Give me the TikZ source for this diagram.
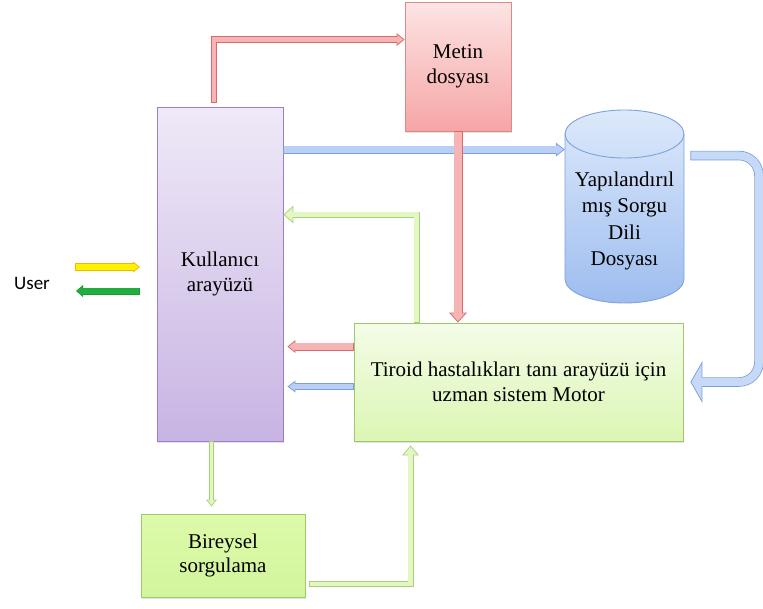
\documentclass[tikz,border=0pt]{standalone}
\usepackage{fontspec}
\setmainfont{Liberation Serif}
\newfontfamily\userfont{Carlito}
\usetikzlibrary{arrows.meta,shadows}

% box colours
\definecolor{metinTop}{HTML}{FDE4E4}
\definecolor{metinBot}{HTML}{F6A5A5}
\definecolor{metinLine}{HTML}{D98A8A}
\definecolor{kulTop}{HTML}{EFE9F7}
\definecolor{kulBot}{HTML}{C8B4E3}
\definecolor{kulLine}{HTML}{9A7FC5}
\definecolor{cylTop}{HTML}{DDE9FB}
\definecolor{cylBot}{HTML}{9DBDEF}
\definecolor{cylLine}{HTML}{7EA2DA}
\definecolor{motorTop}{HTML}{F4FCE8}
\definecolor{motorBot}{HTML}{DCF6B4}
\definecolor{bireyTop}{HTML}{DDFAAA}
\definecolor{bireyBot}{HTML}{D2F59C}
\definecolor{greenLine}{HTML}{9EC86C}
% arrow colours
\definecolor{redFill}{HTML}{F7B4B4}
\definecolor{redLine}{HTML}{D9696A}
\definecolor{blueFill}{HTML}{B9D0F4}
\definecolor{blueLine}{HTML}{7B9FD8}
\definecolor{bigBlueFill}{HTML}{C6D9F6}
\definecolor{gArrowFill}{HTML}{E3F7C2}
\definecolor{gArrowLine}{HTML}{A6D176}
\definecolor{yellowFill}{HTML}{FFF200}
\definecolor{yellowLine}{HTML}{F2B705}
\definecolor{darkGreenFill}{HTML}{22AD40}
\definecolor{darkGreenLine}{HTML}{1C9A36}

% outlined block arrow: outer pass in the border colour, then the tip and
% the shaft refilled in the fill colour
\newcommand\baDraw[3]{\draw[#2,#1] #3;}
\newcommand\blockarrow[7][]{%
  % #2 border, #3 fill, #4 shaft width, #5 head length, #6 head width, #7 path
  \pgfmathsetmacro\baB{0.9}%
  \pgfmathsetmacro\baS{\baB*sqrt((#5)*(#5)+(#6)*(#6)/4)/((#6)/2)}%
  \pgfmathsetmacro\baLi{(#5)-\baB-\baS}%
  \pgfmathsetmacro\baHi{(#6)*\baLi/(#5)}%
  \pgfmathsetmacro\baWi{(#4)-2*\baB}%
  \pgfmathsetmacro\baSh{(#5)-2*\baB}%
  \edef\baOuter{line width=#4pt,-{Triangle[length=#5pt,width=#6pt,line width=0pt]}}%
  \edef\baTip{line width=\baWi pt,shorten >=\baS pt,shorten <=\baB pt,-{Triangle[length=\baLi pt,width=\baHi pt,line width=0pt]}}%
  \edef\baShaft{line width=\baWi pt,shorten >=\baSh pt,shorten <=\baB pt}%
  \expandafter\baDraw\expandafter{\baOuter}{#1,draw=#2}{#7}%
  \expandafter\baDraw\expandafter{\baTip}{#1,draw=#3}{#7}%
  \expandafter\baDraw\expandafter{\baShaft}{#1,draw=#3}{#7}%
}

\begin{document}
\begin{tikzpicture}[x=1pt,y=-1pt,
  boxtext/.style={font=\fontsize{21}{24.5}\selectfont, align=center},
  box/.style={boxtext, draw, line width=0.9pt, inner sep=2pt,
    drop shadow={shadow xshift=1.2pt, shadow yshift=-1.8pt, opacity=0.22}},
  cyl/.style={draw=cylLine, line width=0.9pt},
]
\useasboundingbox (0,0) rectangle (763,608);

% boxes
\node[box, draw=metinLine, top color=metinTop, bottom color=metinBot,
  minimum width=106pt, minimum height=129pt] (metin) at (458,66.5) {Metin\\dosyası};
\node[box, draw=kulLine, top color=kulTop, bottom color=kulBot,
  minimum width=126pt, minimum height=334pt] (kul) at (220,274) {Kullanıcı\\arayüzü};
\node[box, draw=greenLine, top color=motorTop, bottom color=motorBot,
  minimum width=329pt, minimum height=118pt] (motor) at (518.5,382)
  {Tiroid hastalıkları tanı arayüzü için\\uzman sistem Motor};
\node[box, draw=greenLine, top color=bireyTop, bottom color=bireyBot,
  minimum width=164pt, minimum height=83pt] (birey) at (223,555.5) {Bireysel\\sorgulama};

% database cylinder: body, then the front rim of the top end
\shade[cyl, top color=cylTop, bottom color=cylBot]
  (565,134) -- (565,279) arc[start angle=180, end angle=0, x radius=59.5, y radius=24]
  -- (684,134) arc[start angle=0, end angle=-180, x radius=59.5, y radius=24] -- cycle;
\draw[cyl] (565,134) arc[start angle=180, end angle=0, x radius=59.5, y radius=24];
\node[boxtext, font=\fontsize{21}{26.5}\selectfont, minimum width=119pt, inner sep=0pt]
  (sql) at (624.5,221) {Yapılandırıl\\mış Sorgu\\Dili\\Dosyası};

% user side
\node[font=\userfont\fontsize{19}{22}\selectfont] (user) at (32,283) {User};
\coordinate (uinS) at (75,267);
\coordinate (uinE) at (140,267);
\coordinate (uoutS) at (140,291);
\coordinate (uoutE) at (76,291);
\blockarrow{yellowLine}{yellowFill}{8}{7}{11}{(uinS) -- (uinE)}
\blockarrow{darkGreenLine}{darkGreenFill}{7}{7}{12}{(uoutS) -- (uoutE)}

% connector end points
\path ([xshift=-6pt]kul.north) ++(0,-4) coordinate (r1s);
\path (metin.north west) ++(0,38) coordinate (r1e);
\path (kul.north east) ++(0,43) coordinate (b3s);
\path ([xshift=63pt]motor.north west) coordinate (g4s);
\path (kul.north east) ++(0,108) coordinate (g4e);
\path (motor.north west) ++(0,24) coordinate (r5s);
\path (r5s -| kul.east) ++(4,0) coordinate (r5e);
\path (motor.north west) ++(0,64) coordinate (b6s);
\path (b6s -| kul.east) ++(4,0) coordinate (b6e);
\path ([xshift=-8.5pt]kul.south) coordinate (g7s);
\path (g7s |- birey.north) ++(0,-7) coordinate (g7e);
\path (birey.east) ++(4,28.5) coordinate (g8s);
\path (motor.south west) ++(57,4) coordinate (g8e);
\path (motor.north east) ++(7,-167) coordinate (c9s);
\coordinate (c9k) at (759,382);
\path (motor.east) ++(7,0) coordinate (c9e);

% connectors
\blockarrow{redLine}{redFill}{6.5}{8}{13}{(r1s) |- (r1e)}
\blockarrow{blueLine}{blueFill}{8}{9}{14}{(b3s) -- (b3s -| sql.west)}
\blockarrow{redLine}{redFill}{9}{10}{18}{(metin.south) -- (metin.south |- motor.north)}
\blockarrow{gArrowLine}{gArrowFill}{6}{10}{18}{(g4s) |- (g4e)}
\blockarrow{redLine}{redFill}{8}{8}{13}{(r5s) -- (r5e)}
\blockarrow{blueLine}{blueFill}{7}{8}{12}{(b6s) -- (b6e)}
\blockarrow{gArrowLine}{gArrowFill}{5.5}{7}{11}{(g7s) -- (g7e)}
\blockarrow{gArrowLine}{gArrowFill}{6}{10}{17}{(g8s) -| (g8e)}
\blockarrow[rounded corners=20pt]{blueLine}{bigBlueFill}{9.5}{12}{42}{(c9s) -| (c9k) -- (c9e)}
\end{tikzpicture}
\end{document}
